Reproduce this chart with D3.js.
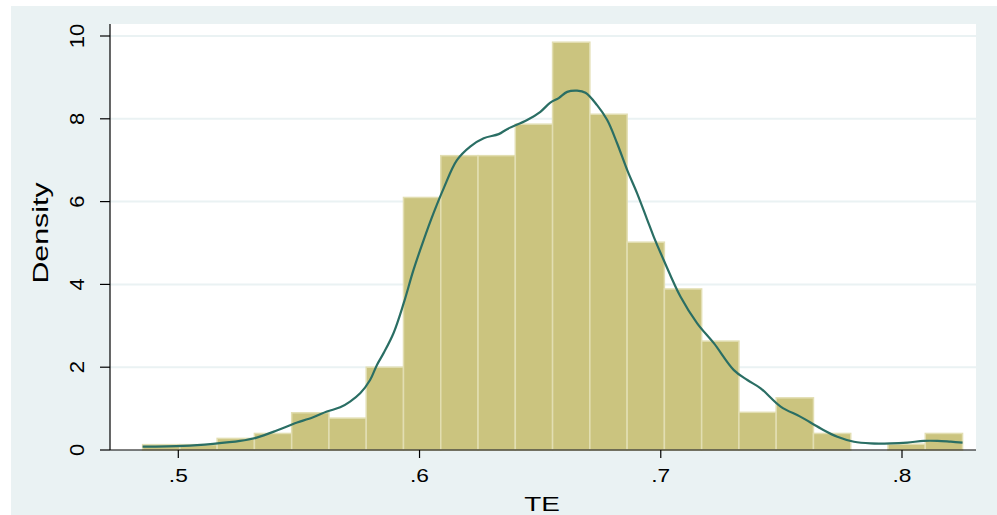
<!DOCTYPE html>
<html>
<head>
<meta charset="utf-8">
<script src="https://cdn.jsdelivr.net/npm/d3@7"></script>
<style>
  body { margin: 0; background: #fff; }
  svg { display: block; font-family: "Liberation Sans", Arial, sans-serif; }
</style>
</head>
<body>
<div id="chart"></div>
<script>
// histogram of TE (density scale)
var binStart = 0.4852;
var binWidth = 0.01545;
var binDensity = [0.13, 0.13, 0.28, 0.40, 0.90, 0.77, 2.00, 6.10, 7.11, 7.11, 7.87,
                  9.85, 8.11, 5.02, 3.89, 2.63, 0.91, 1.26, 0.40, 0.00, 0.14, 0.40];

// kernel density line
var kdeX = [0.4852, 0.5020, 0.5144, 0.5256, 0.5325, 0.5408, 0.5476, 0.5559, 0.5616, 0.5671,
            0.5712, 0.5754, 0.5795, 0.5823, 0.5851, 0.5892, 0.5934, 0.5975, 0.6017, 0.6058,
            0.6100, 0.6155, 0.6210, 0.6266, 0.6328, 0.6363, 0.6446, 0.6501, 0.6542, 0.6577,
            0.6612, 0.6653, 0.6688, 0.6736, 0.6778, 0.6819, 0.6861, 0.6902, 0.6944, 0.6971,
            0.7012, 0.7082, 0.7151, 0.7220, 0.7303, 0.7359, 0.7414, 0.7497, 0.7580, 0.7663,
            0.7732, 0.7801, 0.7870, 0.7953, 0.8022, 0.8091, 0.8147, 0.8202, 0.8251];
var kdeY = [0.08, 0.10, 0.15, 0.22, 0.30, 0.47, 0.63, 0.79, 0.93, 1.03,
            1.17, 1.37, 1.69, 2.05, 2.34, 2.82, 3.54, 4.35, 5.07, 5.72,
            6.32, 7.00, 7.33, 7.53, 7.63, 7.75, 7.97, 8.17, 8.39, 8.50,
            8.65, 8.68, 8.63, 8.33, 7.97, 7.41, 6.76, 6.20, 5.56, 5.15,
            4.59, 3.70, 3.06, 2.58, 1.93, 1.69, 1.49, 1.05, 0.80, 0.52,
            0.32, 0.20, 0.16, 0.16, 0.18, 0.22, 0.22, 0.20, 0.18];

var xTicks = [0.5, 0.6, 0.7, 0.8];
var xTickLabels = [".5", ".6", ".7", ".8"];
var yTicks = [0, 2, 4, 6, 8, 10];

var width = 997, height = 515;
var plotLeft = 110, plotRight = 976, plotTop = 24, plotBottom = 450;

var svg = d3.select("#chart").append("svg")
    .attr("width", width)
    .attr("height", height);

// outer graph region
svg.append("rect")
    .attr("x", 11).attr("y", 6)
    .attr("width", width - 11).attr("height", height - 6)
    .attr("fill", "#eaf2f3");

svg.append("rect")
    .attr("x", plotLeft).attr("y", plotTop)
    .attr("width", plotRight - plotLeft).attr("height", plotBottom - plotTop)
    .attr("fill", "#ffffff");

var x = d3.scaleLinear().domain([0.5, 0.8]).range([178.3, 902]);
var y = d3.scaleLinear().domain([0, 10]).range([plotBottom, 36]);

// gridlines
svg.append("g").selectAll("line")
    .data(yTicks.filter(function (d) { return d > 0; }))
    .enter().append("line")
    .attr("x1", plotLeft).attr("x2", plotRight)
    .attr("y1", function (d) { return y(d); })
    .attr("y2", function (d) { return y(d); })
    .attr("stroke", "#eaf2f3")
    .attr("stroke-width", 2);

// bars
svg.append("g").selectAll("rect")
    .data(binDensity)
    .enter().append("rect")
    .attr("x", function (d, i) { return x(binStart + i * binWidth); })
    .attr("width", function (d, i) { return x(binStart + (i + 1) * binWidth) - x(binStart + i * binWidth); })
    .attr("y", function (d) { return y(d); })
    .attr("height", function (d) { return y(0) - y(d); })
    .attr("fill", function (d) { return d > 0 ? "#cbc47f" : "none"; })
    .attr("stroke", function (d) { return d > 0 ? "#e2deb2" : "none"; })
    .attr("stroke-width", 1.5);

// density curve
var line = d3.line()
    .x(function (d) { return x(d[0]); })
    .y(function (d) { return y(d[1]); })
    .curve(d3.curveCatmullRom);

svg.append("path")
    .datum(kdeX.map(function (v, i) { return [v, kdeY[i]]; }))
    .attr("d", line)
    .attr("fill", "none")
    .attr("stroke", "#2a6e64")
    .attr("stroke-width", 2.2);

// axes lines
svg.append("line")
    .attr("x1", plotLeft).attr("x2", plotLeft)
    .attr("y1", plotTop).attr("y2", plotBottom)
    .attr("stroke", "#000").attr("stroke-width", 1.2);
svg.append("line")
    .attr("x1", plotLeft).attr("x2", plotRight)
    .attr("y1", plotBottom).attr("y2", plotBottom)
    .attr("stroke", "#000").attr("stroke-width", 1.2);

// y ticks
var yt = svg.append("g").selectAll("g")
    .data(yTicks).enter().append("g");
yt.append("line")
    .attr("x1", plotLeft - 10).attr("x2", plotLeft)
    .attr("y1", function (d) { return y(d); })
    .attr("y2", function (d) { return y(d); })
    .attr("stroke", "#000").attr("stroke-width", 1.2);
yt.append("text")
    .attr("transform", function (d) { return "translate(84," + y(d) + ") rotate(-90) scale(1.1,1)"; })
    .attr("text-anchor", "middle")
    .attr("font-size", 20)
    .text(function (d) { return d; });

// x ticks
var xt = svg.append("g").selectAll("g")
    .data(xTicks).enter().append("g");
xt.append("line")
    .attr("x1", function (d) { return x(d); })
    .attr("x2", function (d) { return x(d); })
    .attr("y1", plotBottom).attr("y2", plotBottom + 8)
    .attr("stroke", "#000").attr("stroke-width", 1.2);
xt.append("text")
    .attr("transform", function (d) { return "translate(" + x(d) + ",481.5) scale(1.3,1)"; })
    .attr("text-anchor", "middle")
    .attr("font-size", 17.5)
    .text(function (d, i) { return xTickLabels[i]; });

// axis titles
svg.append("text")
    .attr("transform", "translate(542,511) scale(1.33,1)")
    .attr("text-anchor", "middle")
    .attr("font-size", 21)
    .text("TE");

svg.append("text")
    .attr("transform", "translate(47.5,233) rotate(-90) scale(1.38,1)")
    .attr("text-anchor", "middle")
    .attr("font-size", 22)
    .text("Density");
</script>
</body>
</html>
